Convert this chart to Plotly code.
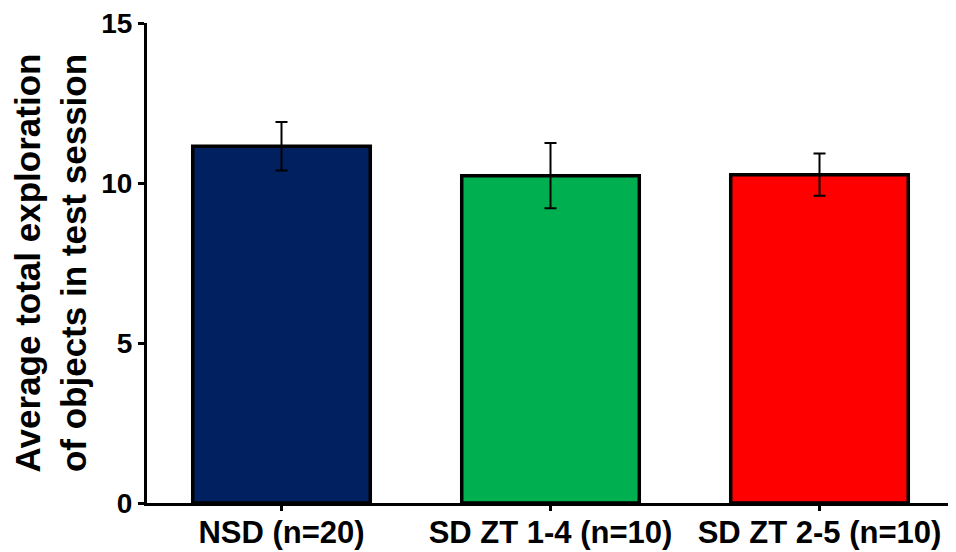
import plotly.graph_objects as go

categories = ["NSD (n=20)", "SD ZT 1-4 (n=10)", "SD ZT 2-5 (n=10)"]
means = [11.15, 10.23, 10.26]
errors = [0.76, 1.02, 0.66]
colors = ["#002060", "#00B050", "#FF0000"]
y_ticks = [0, 5, 10, 15]

FONT = "Arial, Liberation Sans, sans-serif"

fig = go.Figure()
fig.add_trace(go.Bar(
    x=list(range(len(categories))),
    y=means,
    width=0.66,
    marker=dict(color=colors, line=dict(color="black", width=3.5)),
    error_y=dict(type="data", array=errors, visible=True,
                 color="black", thickness=2, width=6),
    showlegend=False,
))

fig.update_layout(
    width=948, height=544,
    margin=dict(l=139, r=2, t=15, b=49, autoexpand=False),
    plot_bgcolor="white", paper_bgcolor="white",
    font=dict(family=FONT, color="black"),
)
fig.update_xaxes(
    showline=True, linecolor="black", linewidth=3,
    ticks="outside", tickson="boundaries", ticklen=5, tickwidth=3, tickcolor="black",
    tickfont=dict(family=FONT, size=31, color="black"),
    showgrid=False, zeroline=False, automargin=False,
    ticklabelstandoff=-5, ticklabeloverflow="allow",
    range=[-0.5, 2.5],
    tickvals=list(range(len(categories))),
    ticktext=["<b>%s</b>" % c for c in categories],
)
fig.update_yaxes(
    range=[0, 15.001], tickvals=y_ticks,
    ticktext=["<b>%d</b>" % v for v in y_ticks],
    showline=True, linecolor="black", linewidth=3,
    ticks="outside", ticklen=6, tickwidth=3, tickcolor="black",
    tickfont=dict(family=FONT, size=28, color="black"),
    showgrid=False, zeroline=False, automargin=False,
    ticklabeloverflow="allow",
    title=dict(text="<b>Average total exploration<br>of objects in test session</b>",
               font=dict(family=FONT, size=35, color="black"), standoff=14),
)

fig.write_html("out.html")
